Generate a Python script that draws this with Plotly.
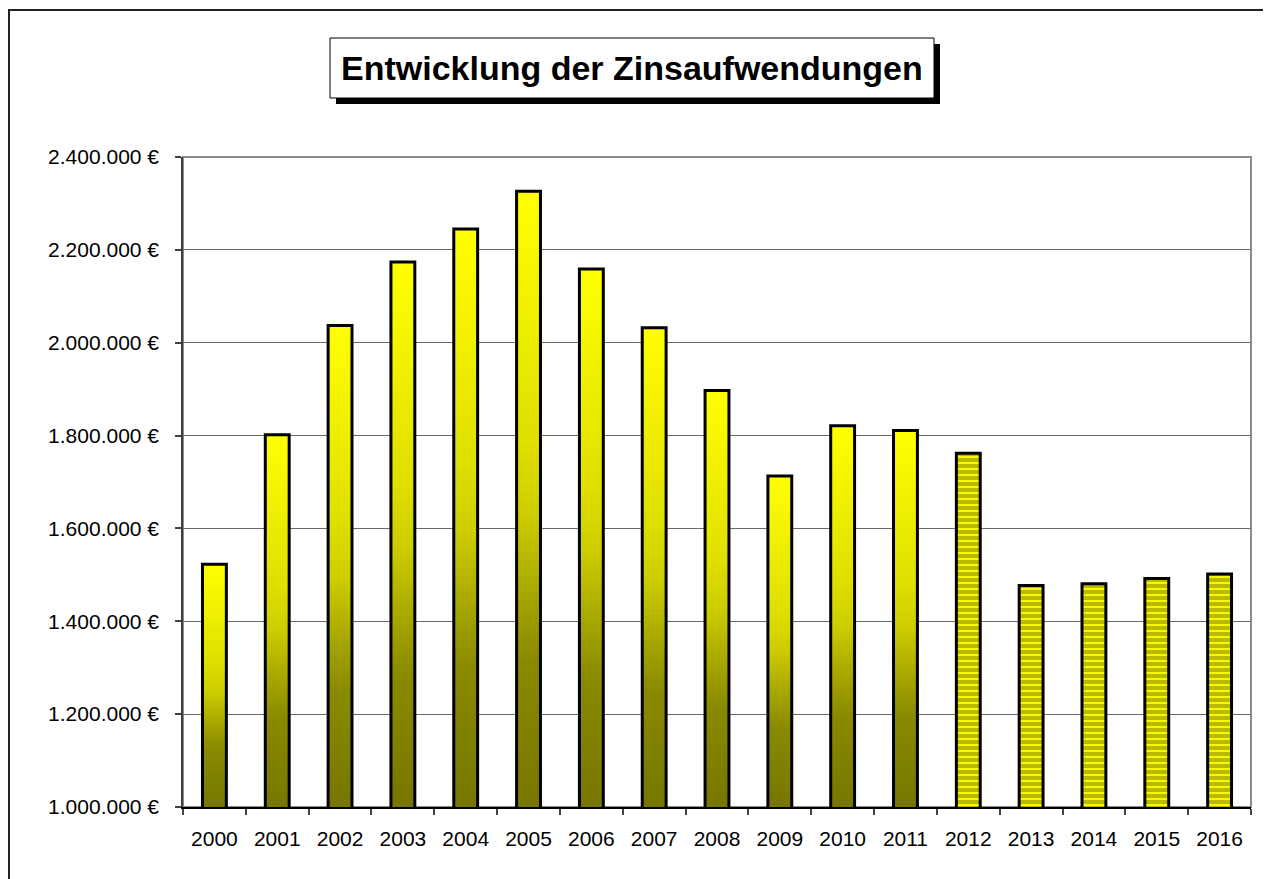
import plotly.graph_objects as go
import numpy as np

# ---- data ----
years = [str(y) for y in range(2000, 2017)]
actual_years = [str(y) for y in range(2000, 2012)]
actual_values = [1523000, 1802000, 2037000, 2174000, 2245000, 2326000, 2159000,
                 2032000, 1897000, 1713000, 1821000, 1811000]
plan_years = [str(y) for y in range(2012, 2017)]
plan_values = [1762000, 1477000, 1481000, 1492000, 1502000]

title_text = "Entwicklung der Zinsaufwendungen"
y_min, y_max, y_step = 1000000, 2400000, 200000

# ---- layout geometry (page pixels; the page body adds an 8px offset) ----
OFF = 8
W, H = 1271 - OFF, 879 - OFF
L, R, T, B = 183, 1251, 157, 807
PW, PH = R - L, B - T


def px(x):
    return (x - L) / PW


def py(y):
    return (B - y) / PH


# gradient profile (brightness from top t=0 to bottom t=1)
stops_t = [0.0, 0.4, 0.52, 0.69, 0.76, 1.0]
stops_v = [255, 224, 206, 156, 138, 118]

N = 80
BAR_W = 0.38
fig = go.Figure()

vals = np.array(actual_values, dtype=float)
span = vals - y_min
for k in range(N):
    t_mid = 1 - (k + 0.5) / N  # k=0 bottom
    v = int(round(np.interp(t_mid, stops_t, stops_v)))
    seg_base = y_min + span * k / N
    fig.add_trace(go.Bar(
        x=actual_years,
        base=seg_base,
        y=vals - seg_base,
        width=BAR_W,
        marker=dict(color=f"rgb({v},{v},0)", line=dict(width=0)),
        hoverinfo="skip", showlegend=False,
    ))

# outline for actual bars
fig.add_trace(go.Bar(
    x=actual_years, y=actual_values, width=BAR_W,
    marker=dict(color="rgba(0,0,0,0)", line=dict(color="#000000", width=3)),
    showlegend=False,
))

# striped plan bars
fig.add_trace(go.Bar(
    x=plan_years, y=plan_values, width=BAR_W,
    marker=dict(color="#ffff00",
                pattern=dict(shape="-", fgcolor="#767600", size=6, solidity=0.7,
                             fillmode="overlay"),
                line=dict(color="#000000", width=3)),
    showlegend=False,
))

shapes = [
    # outer frame
    dict(type="rect", xref="paper", yref="paper",
         x0=px(9), x1=px(1300), y0=py(905), y1=py(10),
         line=dict(color="#222222", width=2), fillcolor="rgba(0,0,0,0)", layer="below"),
    # plot area border
    dict(type="rect", xref="paper", yref="paper", x0=0, x1=1, y0=0, y1=1,
         line=dict(color="#8c8c8c", width=2), fillcolor="rgba(0,0,0,0)", layer="below"),
    # title shadow
    dict(type="rect", xref="paper", yref="paper",
         x0=px(336), x1=px(940), y0=py(104), y1=py(44),
         line=dict(width=0), fillcolor="#000000"),
    # title box
    dict(type="rect", xref="paper", yref="paper",
         x0=px(330), x1=px(934), y0=py(98), y1=py(38),
         line=dict(color="#000000", width=1), fillcolor="#ffffff"),
]

fig.update_layout(
    width=W, height=H,
    margin=dict(l=L - OFF, r=W - (R - OFF), t=T - OFF, b=H - (B - OFF), pad=0),
    paper_bgcolor="#ffffff", plot_bgcolor="#ffffff",
    barmode="overlay", separators=",.",
    font=dict(family="Liberation Sans, Arial, sans-serif", color="#000000", size=21),
    shapes=shapes,
    annotations=[dict(
        text=f"<b>{title_text}</b>", xref="paper", yref="paper",
        x=px(632), y=py(68), xanchor="center", yanchor="middle", showarrow=False,
        font=dict(size=34, family="Liberation Sans, Arial, sans-serif", color="#000000"),
    )],
    xaxis=dict(
        type="category", categoryorder="array", categoryarray=years,
        range=[-0.5, len(years) - 0.5],
        showgrid=False, showline=True, linecolor="#000000", linewidth=1.5,
        ticks="outside", tickson="boundaries", ticklen=6, tickcolor="#444444",
        tickwidth=1.5, ticklabelstandoff=12,
        tickfont=dict(size=21), zeroline=False,
    ),
    yaxis=dict(
        range=[y_min, y_max], tickmode="linear", tick0=y_min, dtick=y_step,
        tickformat=",.0f", ticksuffix=" €",
        showgrid=True, gridcolor="#6a6a6a", gridwidth=1,
        showline=True, linecolor="#404040", linewidth=1.5,
        ticks="outside", ticklen=6, tickcolor="#404040", tickwidth=1.5,
        ticklabelstandoff=12, tickfont=dict(size=21), zeroline=False,
    ),
    bargap=0.62,
)

fig.write_html("out.html")
